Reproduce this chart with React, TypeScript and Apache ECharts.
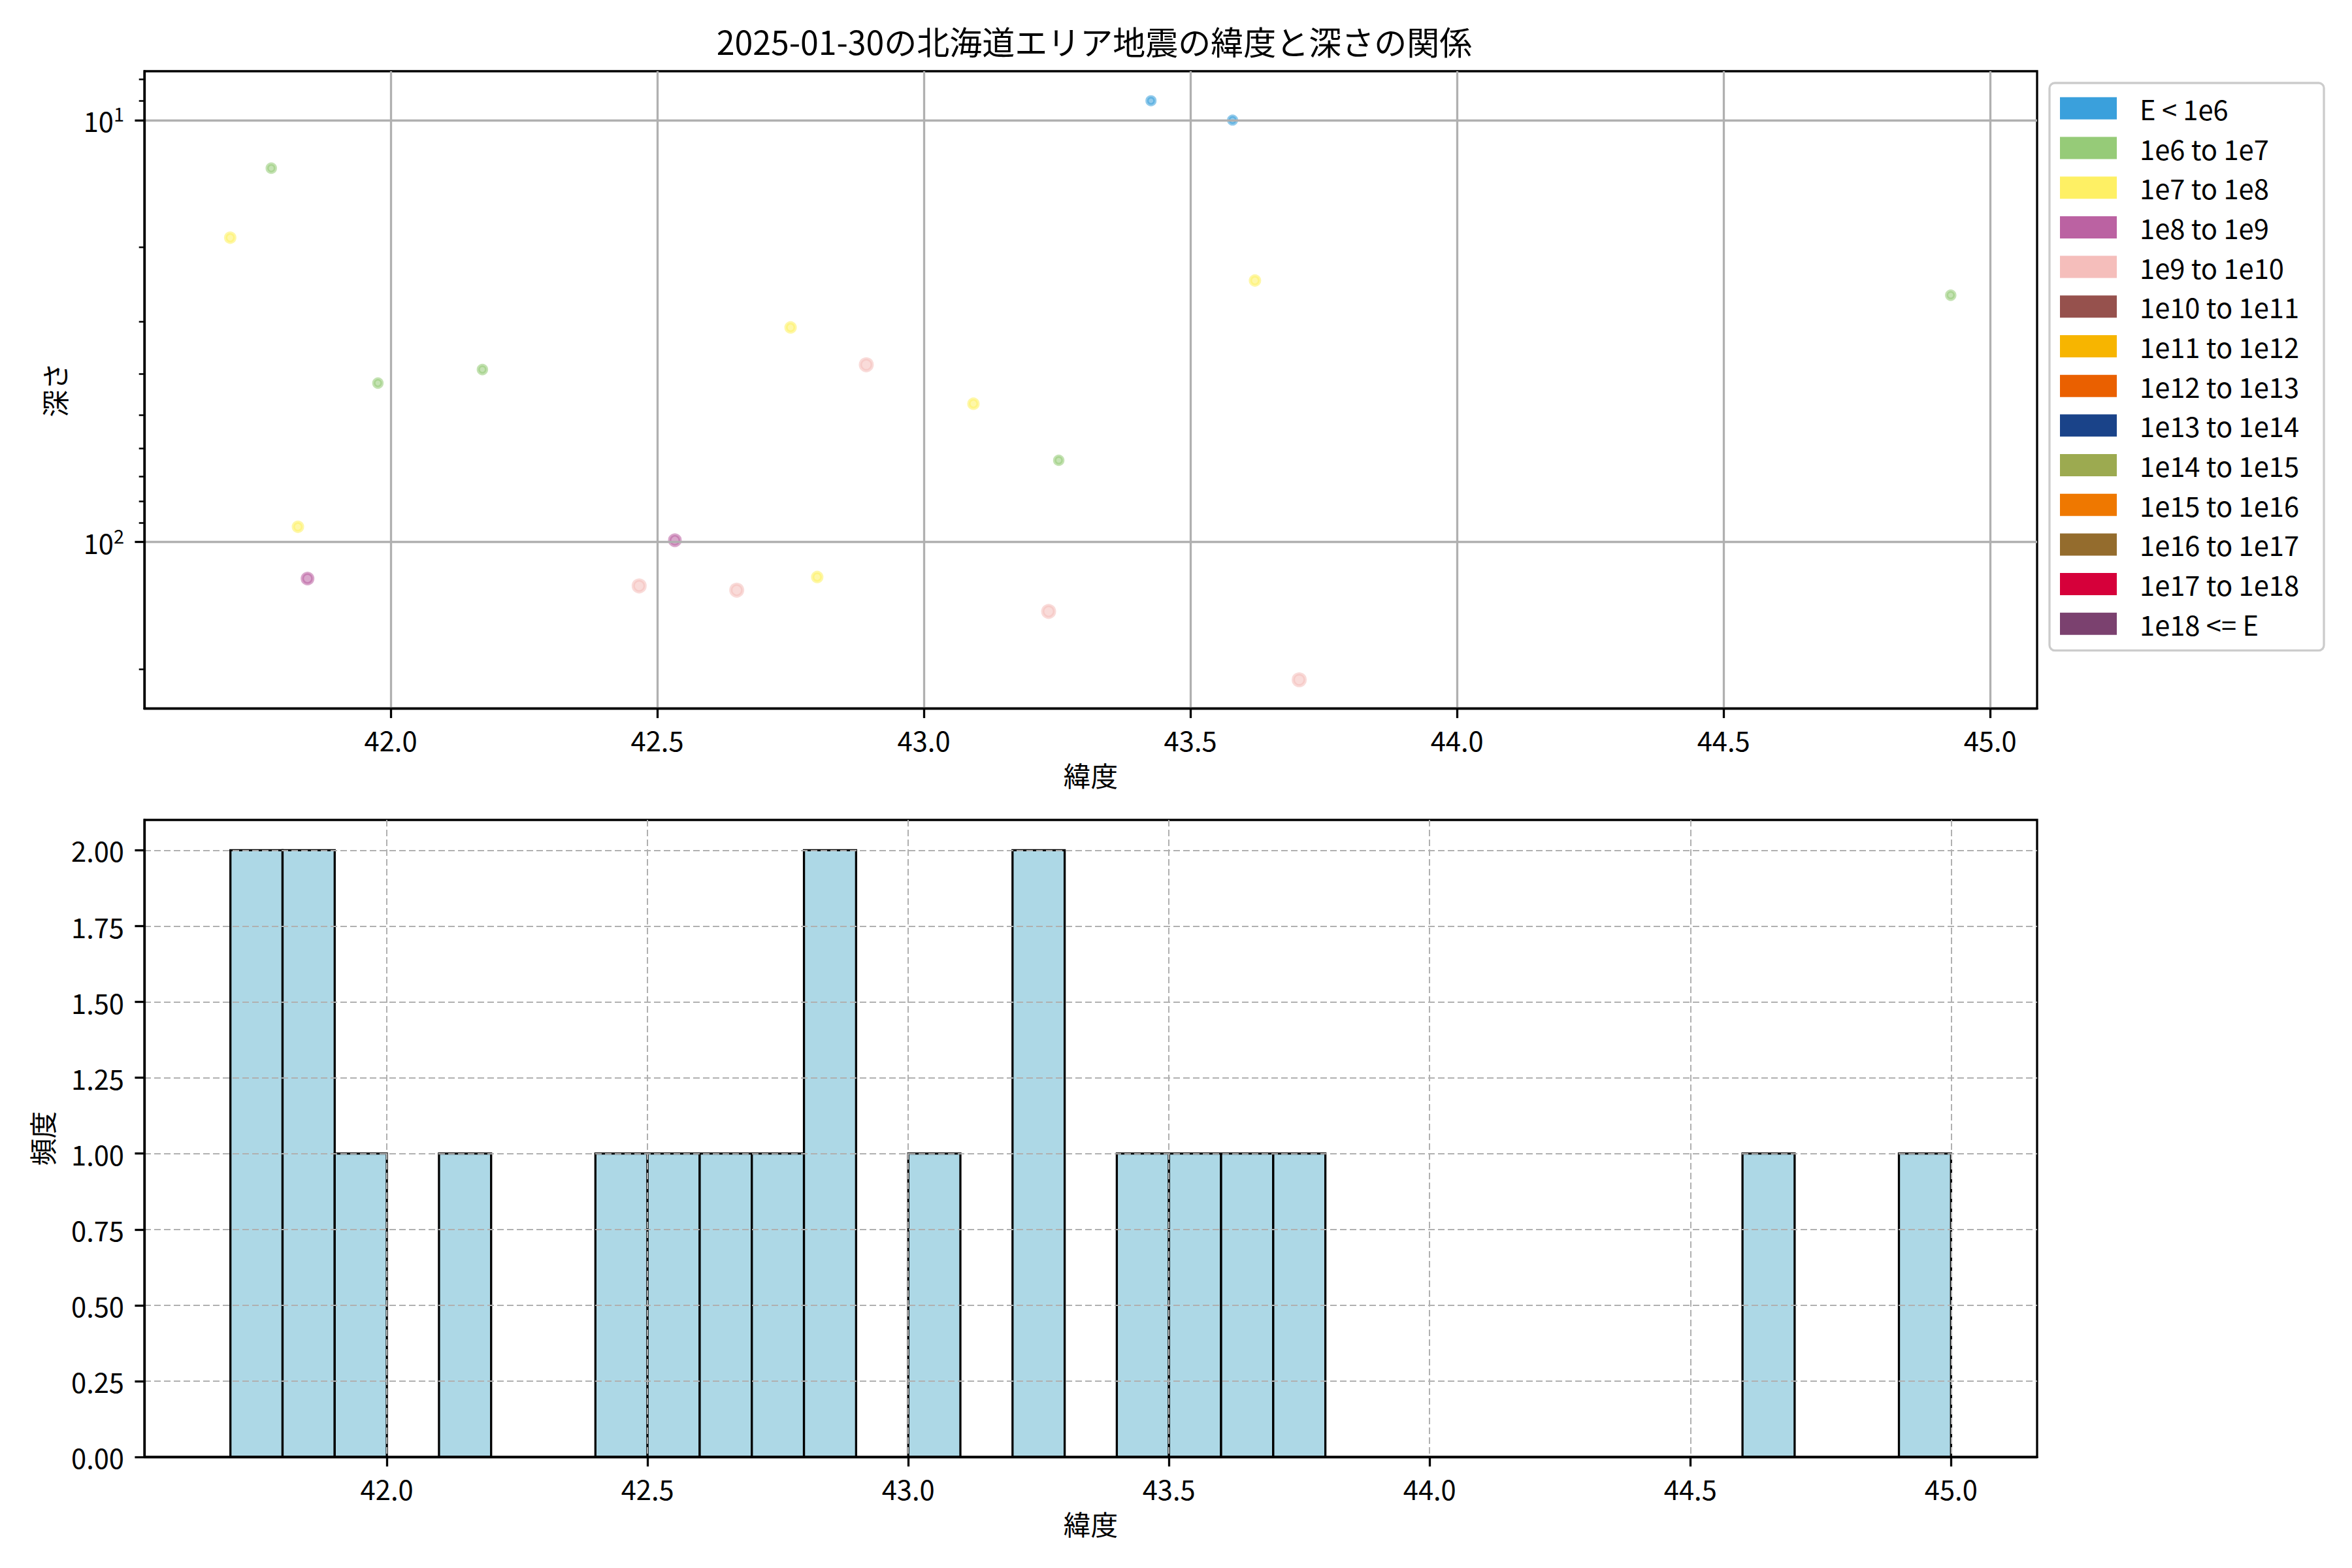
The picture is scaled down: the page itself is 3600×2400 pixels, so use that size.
import React, { useEffect, useRef } from 'react';
import * as echarts from 'echarts';

const TITLE = '2025-01-30の北海道エリア地震の緯度と深さの関係';
const X_NAME = '緯度';
const Y_NAME_TOP = '深さ';
const Y_NAME_BOTTOM = '頻度';

const energyClasses = [
  'E < 1e6', '1e6 to 1e7', '1e7 to 1e8', '1e8 to 1e9', '1e9 to 1e10',
  '1e10 to 1e11', '1e11 to 1e12', '1e12 to 1e13', '1e13 to 1e14', '1e14 to 1e15',
  '1e15 to 1e16', '1e16 to 1e17', '1e17 to 1e18', '1e18 <= E',
];
const classColors = [
  '#3aa0dc', '#96cb78', '#fef064', '#bb62a2', '#f5bebb',
  '#96514d', '#f7b500', '#ea6000', '#1a4389', '#9caa50',
  '#ef7800', '#946c2d', '#d6003a', '#7b416f',
];

// scatter points (depth 0 event at ~44.65 is not drawable on log axis)
const latitudes = [
  41.776, 41.699, 41.976, 42.172, 41.826, 41.844, 42.466, 42.533, 42.649, 42.800,
  42.750, 42.892, 43.093, 43.253, 43.234, 43.426, 43.579, 43.621, 44.926, 43.704,
];
const depths = [
  13, 19, 42, 39, 92, 122, 127, 99, 130, 121,
  31, 38, 47, 64, 146, 9, 10, 24, 26, 212,
];
const energyClassIdx = [
  1, 2, 1, 1, 2, 3, 4, 3, 4, 2,
  2, 4, 2, 1, 4, 0, 0, 2, 1, 4,
];

const latTicks = [42.0, 42.5, 43.0, 43.5, 44.0, 44.5, 45.0];
const depthMajorTicks = [10, 100];
const depthMinorTicks = [8, 9, 20, 30, 40, 50, 60, 70, 80, 90, 200];

const histBinStarts = [41.7, 41.8, 41.9, 42.1, 42.4, 42.5, 42.6, 42.7, 42.8, 43.0, 43.2, 43.4, 43.5, 43.6, 43.7, 44.6, 44.9];
const histCounts = [2, 2, 1, 1, 1, 1, 1, 1, 2, 1, 2, 1, 1, 1, 1, 1, 1];
const HIST_BIN_WIDTH = 0.1;
const freqTicks = [0, 0.25, 0.5, 0.75, 1.0, 1.25, 1.5, 1.75, 2.0];

// styles
const FONT = '"Noto Sans CJK JP", "Noto Sans", sans-serif';
const markerSizes = [12, 12.5, 14, 16, 18, 18, 18, 18, 18, 18, 18, 18, 18, 18];

function rgba(hex: string, a: number) {
  const n = parseInt(hex.slice(1), 16);
  return `rgba(${(n >> 16) & 255},${(n >> 8) & 255},${n & 255},${a})`;
}

const tickLine = { color: '#000', width: 3.3 };
const axisLineStyle = { show: true, lineStyle: { color: '#000', width: 3.3 } };
const labelStyle = { fontFamily: FONT, fontSize: 41.7, color: '#000' };

export default function App() {
  const ref = useRef<HTMLDivElement>(null);
  useEffect(() => {
    if (!ref.current) return;
    const chart = echarts.init(ref.current, undefined, { renderer: 'svg' });

    const scatterSeries = energyClasses.map((name, ci) => ({
      type: 'scatter',
      name,
      xAxisIndex: 0,
      yAxisIndex: 0,
      z: -1,
      symbol: 'circle',
      symbolSize: markerSizes[ci],
      itemStyle: {
        color: rgba(classColors[ci], 0.7),
        borderColor: rgba(classColors[ci], 0.7),
        borderWidth: 5,
      },
      emphasis: { disabled: true },
      data: latitudes
        .map((lat, i) => ({ lat, d: depths[i], c: energyClassIdx[i] }))
        .filter((p) => p.c === ci && p.d > 0)
        .map((p) => [p.lat, p.d]),
    }));

    const histSeries = {
      type: 'custom',
      name: 'hist',
      xAxisIndex: 1,
      yAxisIndex: 2,
      z: -1,
      encode: { x: [0, 1], y: 2 },
      data: histBinStarts.map((s, i) => [s, s + HIST_BIN_WIDTH, histCounts[i]]),
      renderItem: (params: any, api: any) => {
        const p0 = api.coord([api.value(0), api.value(2)]);
        const p1 = api.coord([api.value(1), 0]);
        return {
          type: 'rect',
          shape: { x: p0[0], y: p0[1], width: p1[0] - p0[0], height: p1[1] - p0[1] },
          style: { fill: '#add8e6', stroke: '#000', lineWidth: 3.3 },
        };
      },
    };

    const option: any = {
      animation: false,
      backgroundColor: '#fff',
      title: {
        text: TITLE,
        left: 1670,
        top: 32,
        textAlign: 'center',
        textStyle: { fontFamily: FONT, fontSize: 50, fontWeight: 'normal', color: '#000' },
      },
      legend: {
        orient: 'vertical',
        left: 3137,
        top: 127,
        padding: [18, 38, 20, 16],
        itemWidth: 87,
        itemHeight: 34,
        itemGap: 19,
        icon: 'rect',
        selectedMode: false,
        backgroundColor: '#ffffff',
        borderColor: '#cccccc',
        borderWidth: 3.3,
        borderRadius: 8,
        itemStyle: { borderWidth: 0 },
        textStyle: { ...labelStyle, padding: [0, 0, 0, 30] },
        data: energyClasses.map((name, i) => ({
          name,
          itemStyle: { color: classColors[i], borderWidth: 0, opacity: 1 },
        })),
      },
      grid: [
        { left: 221, top: 109, width: 2897, height: 975.5, show: true, borderColor: '#000', borderWidth: 3.3, backgroundColor: 'transparent' },
        { left: 221, top: 1255, width: 2897, height: 975, show: true, borderColor: '#000', borderWidth: 3.3, backgroundColor: 'transparent' },
      ],
      xAxis: [
        {
          type: 'value', gridIndex: 0, min: 41.538, max: 45.088, splitNumber: 7,
          name: X_NAME, nameLocation: 'middle', nameGap: 81,
          nameTextStyle: labelStyle,
          axisLine: axisLineStyle,
          axisTick: { show: true, customValues: latTicks, length: 14.6, lineStyle: tickLine },
          axisLabel: { customValues: latTicks, formatter: (v: number) => v.toFixed(1), margin: 27, ...labelStyle },
          splitLine: { show: true, lineStyle: { color: '#b0b0b0', width: 3.3 } },
        },
        {
          type: 'value', gridIndex: 1, min: 41.535, max: 45.165, splitNumber: 7,
          name: X_NAME, nameLocation: 'middle', nameGap: 81,
          nameTextStyle: labelStyle,
          axisLine: axisLineStyle,
          axisTick: { show: true, customValues: latTicks, length: 14.6, lineStyle: tickLine },
          axisLabel: { customValues: latTicks, formatter: (v: number) => v.toFixed(1), margin: 27, ...labelStyle },
          splitLine: { show: true, lineStyle: { color: '#b0b0b0', width: 2, type: [10, 5] } },
        },
      ],
      yAxis: [
        {
          type: 'log', logBase: 10, gridIndex: 0, inverse: true, min: 7.66, max: 248, position: 'left',
          name: Y_NAME_TOP, nameLocation: 'middle', nameGap: 117,
          nameTextStyle: labelStyle,
          axisLine: axisLineStyle,
          axisTick: { show: true, customValues: depthMajorTicks, length: 14.6, lineStyle: tickLine },
          axisLabel: {
            customValues: depthMajorTicks,
            margin: 31,
            formatter: (v: number) => `{b|10}{s|${Math.round(Math.log10(v))}}`,
            rich: {
              b: { ...labelStyle, lineHeight: 50 },
              s: { fontFamily: FONT, fontSize: 29, color: '#000', lineHeight: 29, padding: [0, 0, 21, 0] },
            },
          },
          splitLine: { show: true, lineStyle: { color: '#b0b0b0', width: 3.3 } },
        },
        {
          type: 'log', logBase: 10, gridIndex: 0, inverse: true, min: 7.66, max: 248, position: 'left', offset: 0,
          axisLine: { show: false },
          axisTick: { show: true, customValues: depthMinorTicks, length: 8.3, lineStyle: { color: '#000', width: 2.5 } },
          axisLabel: { show: false },
          splitLine: { show: false },
        },
        {
          type: 'value', gridIndex: 1, min: 0, max: 2.1, interval: 0.25, position: 'left',
          name: Y_NAME_BOTTOM, nameLocation: 'middle', nameGap: 136,
          nameTextStyle: labelStyle,
          axisLine: axisLineStyle,
          axisTick: { show: true, customValues: freqTicks, length: 14.6, lineStyle: tickLine },
          axisLabel: { customValues: freqTicks, formatter: (v: number) => v.toFixed(2), margin: 31, ...labelStyle },
          splitLine: { show: true, showMinLine: false, lineStyle: { color: '#b0b0b0', width: 2, type: [10, 5] } },
        },
      ],
      series: [...scatterSeries, histSeries],
    };

    chart.setOption(option);
    return () => chart.dispose();
  }, []);

  return (
    <div
      ref={ref}
      style={{ position: 'absolute', left: 0, top: 0, width: 3600, height: 2400, background: '#fff' }}
    />
  );
}
